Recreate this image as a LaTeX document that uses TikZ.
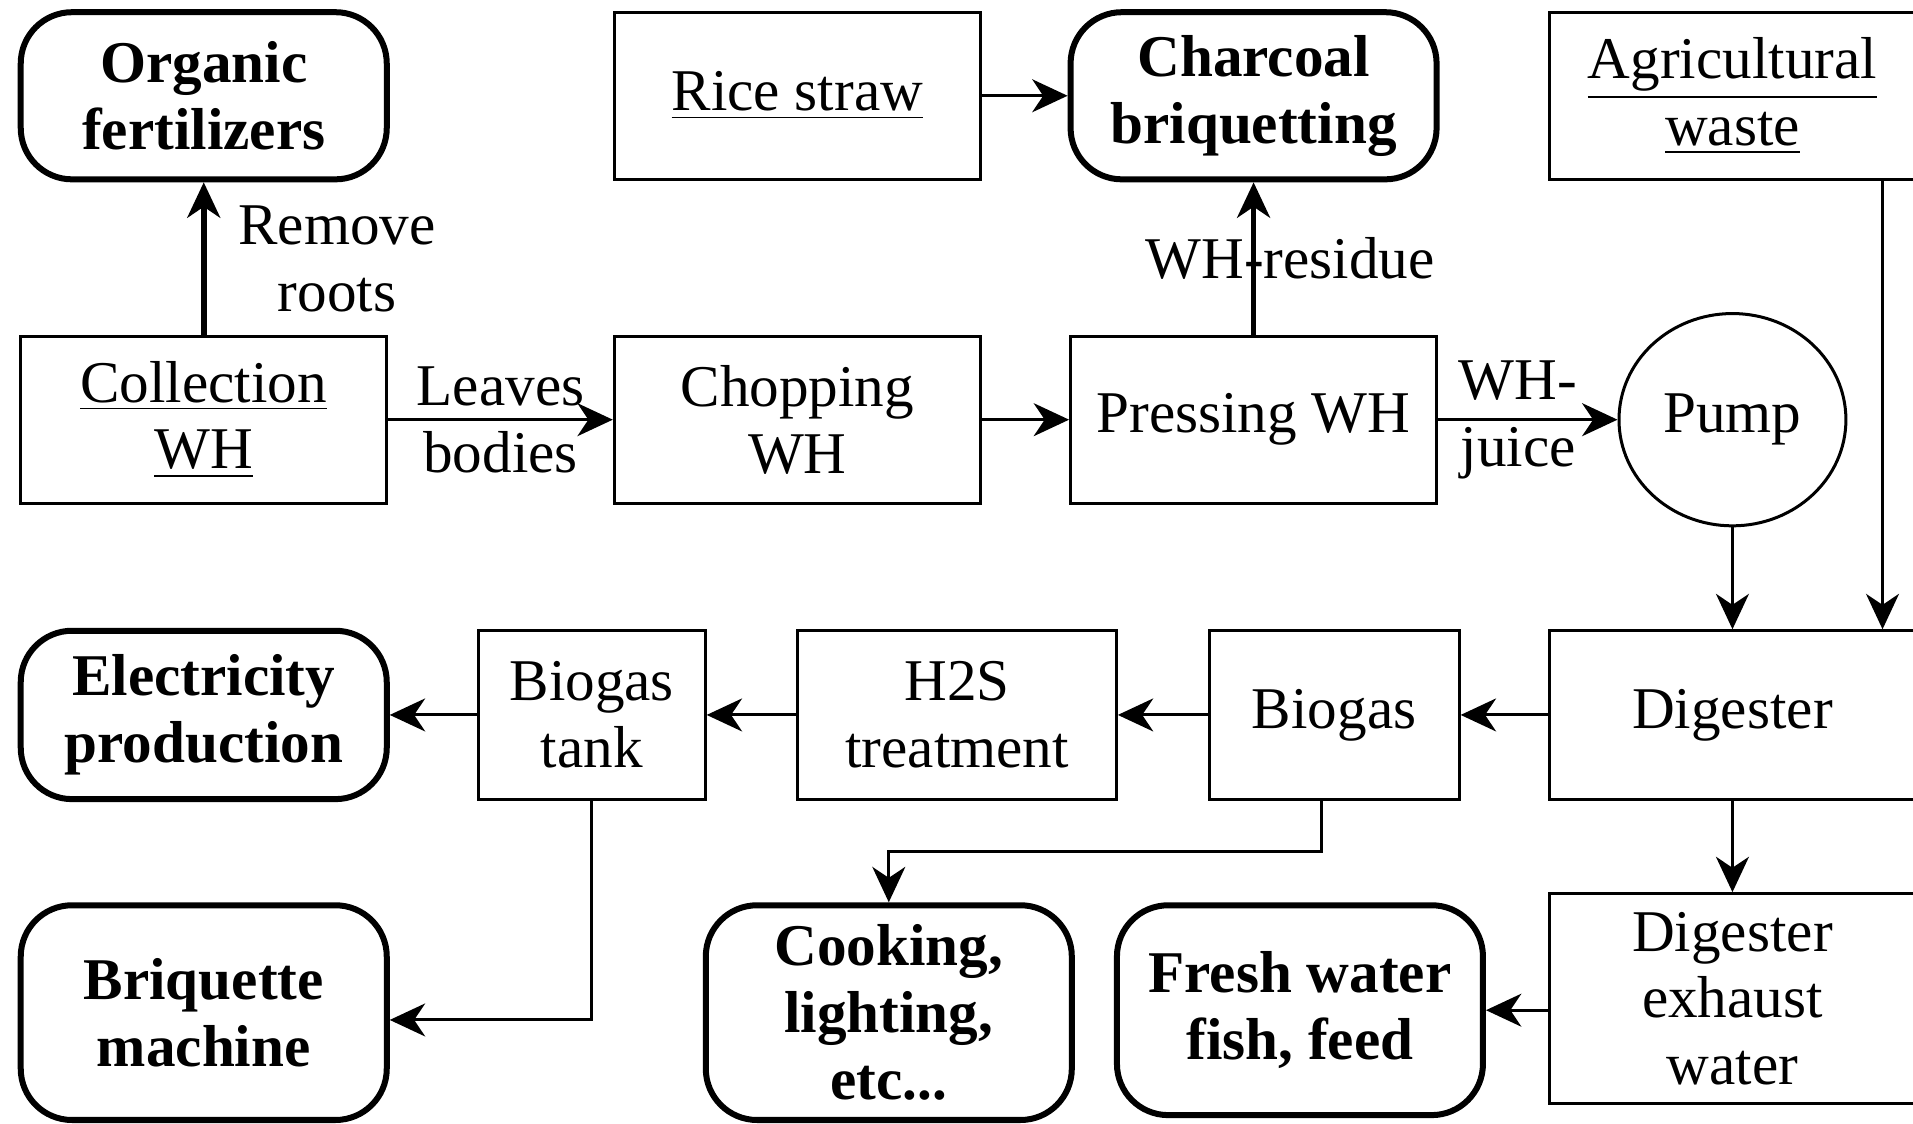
\documentclass[tikz,border=0pt]{standalone}
\usepackage{fontspec}
\setmainfont{Liberation Serif}
\usepackage{tikz}
\usetikzlibrary{shapes.geometric, arrows.meta}
\tikzstyle{process} = [rectangle, minimum width=3cm, minimum height=1.37cm, inner sep=1pt, align=center, draw=black, line width=0.7pt]
\tikzstyle{product} = [rectangle, rounded corners=0.42cm, minimum width=3cm, minimum height=1.37cm, inner sep=1pt, align=center, draw=black, line width=1.4pt, font=\bfseries]
\tikzstyle{pumpcircle} = [ellipse, minimum width=1.86cm, minimum height=1.74cm, inner sep=1pt, draw=black, line width=0.7pt]
\tikzstyle{arrow} = [line width=0.7pt, -{Stealth[length=2.9mm, width=2.7mm, inset=0.9mm]}]
\tikzstyle{thickarrow} = [arrow, line width=1.3pt]

\begin{document}
\fontsize{13.8pt}{15.6pt}\selectfont
\begin{tikzpicture}[node distance=2.5cm]
\useasboundingbox (0,0) rectangle (15.68,-9.21);
\node (coll) [process] at (1.67,-3.44) {\underline{Collection}\\\underline{WH}};
\node (fert) [product, above of=coll, yshift=0.155cm] {Organic\\fertilizers};
\node (chop) [process, right of=coll, xshift=2.365cm] {Chopping\\WH};
\node (press) [process, right of=chop, xshift=1.24cm] {Pressing WH};
\node (rice) [process, above of=chop, yshift=0.155cm] {\underline{Rice straw}};
\node (charcoal) [product, above of=press, yshift=0.155cm] {Charcoal\\briquetting};
\node (pump) [pumpcircle, right of=press, xshift=1.425cm] {Pump};
\node (agri) [process, above of=pump, yshift=0.155cm] {\underline{Agricultural}\\\underline{waste}};
\node (dig) [process, minimum height=1.38cm, below of=pump, yshift=0.08cm] {Digester};
\node (biogas) [process, minimum width=2.05cm, minimum height=1.38cm, left of=dig, xshift=-0.765cm] {Biogas};
\node (h2s) [process, minimum width=2.61cm, minimum height=1.38cm, left of=biogas, xshift=-0.59cm] {H2S\\treatment};
\node (tank) [process, minimum width=1.86cm, minimum height=1.38cm, left of=h2s, xshift=-0.495cm] {Biogas\\tank};
\node (elec) [product, minimum height=1.38cm, below of=coll, yshift=0.08cm] {Electricity\\production};
\node (briq) [product, minimum height=1.76cm, below of=elec, yshift=0.06cm] {Briquette\\machine};
\node (cook) [product, minimum height=1.76cm, right of=briq, xshift=3.115cm] {Cooking,\\lighting,\\etc...};
\node (fresh) [product, minimum height=1.72cm, right of=cook, xshift=0.87cm, yshift=0.02cm] {Fresh water\\fish, feed};
\node (exhaust) [process, minimum height=1.72cm, below of=dig, yshift=0.175cm] {Digester\\exhaust\\water};

\draw [thickarrow] (coll) -- node [right, xshift=0.1cm, align=center] {Remove\\roots} (fert);
\draw [arrow] (coll) -- node [align=center] {Leaves\\bodies} (chop);
\draw [arrow] (chop) -- (press);
\draw [arrow] (rice) -- (charcoal);
\draw [thickarrow] (press) -- node [xshift=0.3cm] {WH-residue} (charcoal);
\draw [arrow] (press) -- node [align=center, xshift=-0.08cm] {WH-\\juice} (pump);
\draw [arrow] (pump) -- (dig);
\draw [arrow] ([xshift=1.23cm]agri.south) -- ([xshift=1.23cm]dig.north);
\draw [arrow] (dig) -- (biogas);
\draw [arrow] (biogas) -- (h2s);
\draw [arrow] (h2s) -- (tank);
\draw [arrow] (tank) -- (elec);
\draw [arrow] (tank.south) |- ([yshift=-0.06cm]briq.east);
\draw [arrow] ([xshift=-0.1cm]biogas.south) -- ++(0,-0.42) -| (cook.north);
\draw [arrow] (dig) -- (exhaust);
\draw [arrow] (exhaust.west |- fresh.east) -- (fresh.east);
\end{tikzpicture}
\end{document}
